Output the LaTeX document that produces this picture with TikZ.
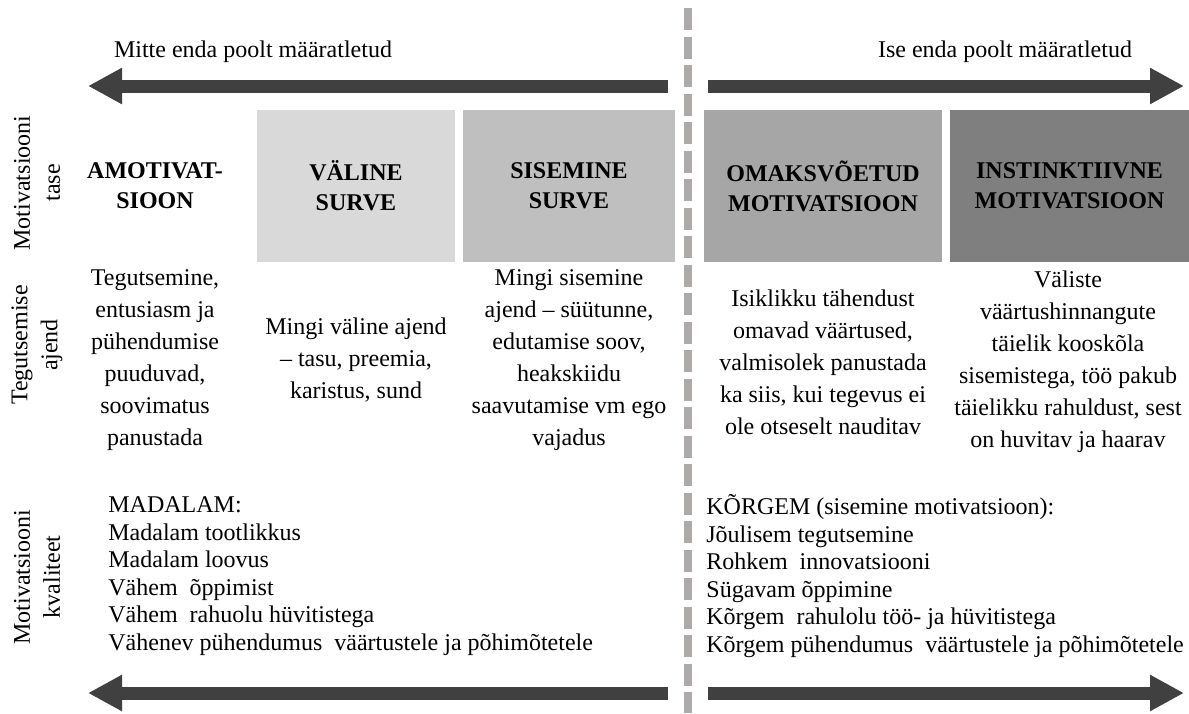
\documentclass[tikz,border=0pt]{standalone}
\usepackage{fontspec}
\setmainfont{Liberation Serif}
\usepackage{xcolor}
\usepackage{tikz}
\usetikzlibrary{arrows.meta}

\definecolor{arrowgray}{HTML}{404040}
\definecolor{divgray}{HTML}{AEAAAA}
\definecolor{lvlA}{HTML}{D9D9D9}
\definecolor{lvlB}{HTML}{BFBFBF}
\definecolor{lvlC}{HTML}{A6A6A6}
\definecolor{lvlD}{HTML}{7F7F7F}

\begin{document}
\begin{tikzpicture}[x = 0.5pt, y = -0.5pt,
  txt/.style = {font = \fontsize{12pt}{16pt}\selectfont, align = center, inner sep = 0pt},
  lvlbox/.style = {txt, font = \fontsize{12pt}{15pt}\selectfont\bfseries, minimum height = 76pt},
  rowlbl/.style = {txt, rotate = 90, font = \fontsize{12pt}{15pt}\selectfont},
  qlist/.style = {txt, align = left, anchor = west, font = \fontsize{12pt}{13.75pt}\selectfont},
  bigarrow/.style = {line width = 6.5pt, color = arrowgray, -{Triangle[length = 17pt, width = 17pt]}},
  divider/.style = {line width = 3.75pt, color = divgray, dash pattern = on 11pt off 3.25pt}]
\useasboundingbox (0,0) rectangle (1189,713);

\coordinate (div-a) at (688,8);
\coordinate (div-b) at (688,713);
\draw [divider] (div-a) -- (div-b);


\node[txt] at(253,52) (nonself) {Mitte enda poolt määratletud};
\node[txt] at(1005,52) (self) {Ise enda poolt määratletud};


\coordinate (tl-a) at (668,86);
\coordinate (tl-b) at (88,86);
\coordinate (tr-a) at (708,86);
\coordinate (tr-b) at (1184,86);
\draw [bigarrow] (tl-a) -- (tl-b);
\draw [bigarrow] (tr-a) -- (tr-b);


\node[rowlbl] at(37,183) (lbllvl) {Motivatsiooni\\tase};
\node[rowlbl] at(37,345) (lblwhy) {Tegutsemise\\ajend};
\node[rowlbl] at(37,577) (lblqual) {Motivatsiooni\\kvaliteet};


\node[lvlbox, minimum width = 99pt] at(155,186) (amot) {AMOTIVAT-\\SIOON};
\node[lvlbox, fill = lvlA, minimum width = 99pt] at(356,186) (valine) {VÄLINE\\SURVE};
\node[lvlbox, fill = lvlB, minimum width = 106pt] at(569,186) (sisem) {SISEMINE\\SURVE};
\node[lvlbox, fill = lvlC, minimum width = 119pt] at(823,186) (omaks) {OMAKSVÕETUD\\MOTIVATSIOON};
\node[lvlbox, fill = lvlD, minimum width = 119.5pt] at(1069.5,186) (instin) {INSTINKTIIVNE\\MOTIVATSIOON};


\node[txt] at(155,360) (why0) {Tegutsemine,\\entusiasm ja\\pühendumise\\puuduvad,\\soovimatus\\panustada};
\node[txt] at(356,360) (why1) {Mingi väline ajend\\– tasu, preemia,\\karistus, sund};
\node[txt] at(569,360) (why2) {Mingi sisemine\\ajend – süütunne,\\edutamise soov,\\heakskiidu\\saavutamise vm ego\\vajadus};
\node[txt] at(823,362) (why3) {Isiklikku tähendust\\omavad väärtused,\\valmisolek panustada\\ka siis, kui tegevus ei\\ole otseselt nauditav};
\node[txt] at(1068,362) (why4) {Väliste\\väärtushinnangute\\täielik kooskõla\\sisemistega, töö pakub\\täielikku rahuldust, sest\\on huvitav ja haarav};


\node[qlist] at(108,576) (lowq) {MADALAM:\\Madalam tootlikkus\\Madalam loovus\\Vähem\ \ õppimist\\Vähem\ \ rahuolu hüvitistega\\Vähenev pühendumus\ \ väärtustele ja põhimõtetele};
\node[qlist] at(706,576) (highq) {KÕRGEM (sisemine motivatsioon):\\Jõulisem tegutsemine\\Rohkem\ \ innovatsiooni\\Sügavam õppimine\\Kõrgem\ \ rahulolu töö- ja hüvitistega\\Kõrgem pühendumus\ \ väärtustele ja põhimõtetele};


\coordinate (bl-a) at (668,693);
\coordinate (bl-b) at (88,693);
\coordinate (br-a) at (708,693);
\coordinate (br-b) at (1184,693);
\draw [bigarrow] (bl-a) -- (bl-b);
\draw [bigarrow] (br-a) -- (br-b);
\end{tikzpicture}
\end{document}
